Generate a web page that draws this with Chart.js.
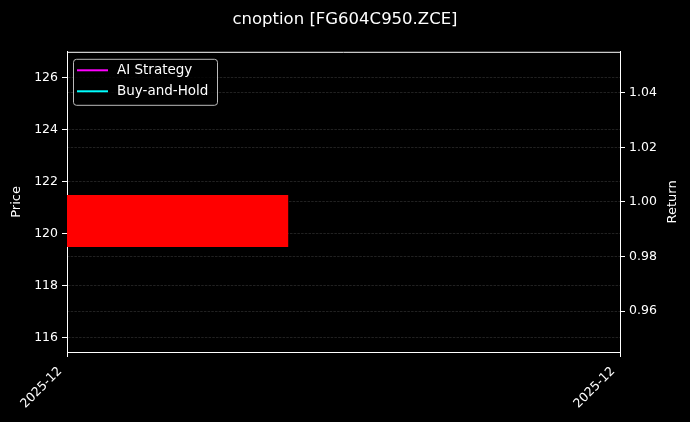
<!DOCTYPE html>
<html>
<head>
<meta charset="utf-8">
<script src="https://cdn.jsdelivr.net/npm/chart.js@4"></script>
<style>
  html, body { margin: 0; padding: 0; background: #000; }
  #wrap { width: 690px; height: 422px; }
</style>
</head>
<body>
<div id="wrap"><canvas id="chart" width="690" height="422"></canvas></div>
<script>
// data
const candleX = [0];
const candleOpenClose = [[119.5, 121.5]];
const returnX = [0];
const aiStrategy = [1.0];
const buyAndHold = [1.0];
const xTickLabels = ["2025-12", "2025-12"];
const xTickValues = [0, 1];

const FONT = "'DejaVu Sans', sans-serif";
const GRID = "rgba(255,255,255,0.22)";

const blackBg = {
  id: "blackBg",
  beforeDraw(chart) {
    const c = chart.ctx;
    c.save();
    c.fillStyle = "#000";
    c.fillRect(0, 0, chart.width, chart.height);
    c.restore();
  },
};

// top spine, right axis title (reads bottom-to-top like matplotlib), legend inside the plot
const extras = {
  id: "extras",
  afterDraw(chart) {
    const c = chart.ctx;
    const a = chart.chartArea;
    c.save();
    c.strokeStyle = "#fff";
    c.lineWidth = 1;
    c.beginPath();
    c.moveTo(a.left, a.top + 0.5);
    c.lineTo(a.right, a.top + 0.5);
    c.stroke();

    // Return label
    const y1 = chart.scales.y1;
    c.fillStyle = "#fff";
    c.font = "13px " + FONT;
    c.textAlign = "center";
    c.textBaseline = "middle";
    c.translate(673, (a.top + a.bottom) / 2);
    c.rotate(-Math.PI / 2);
    c.fillText(y1.options.title.text, 0, 0);
    c.restore();

    // legend
    const items = chart.data.datasets.filter((d) => d.type === "line");
    const x0 = a.left + 6, y0 = a.top + 7, w = 144, h = 46;
    c.save();
    c.fillStyle = "rgba(0,0,0,0.8)";
    c.strokeStyle = "#bbb";
    c.lineWidth = 1;
    c.beginPath();
    c.roundRect(x0 + 0.5, y0 + 0.5, w, h, 3);
    c.fill();
    c.stroke();
    c.font = "13.5px " + FONT;
    c.textBaseline = "middle";
    c.textAlign = "left";
    items.forEach((d, i) => {
      const yy = y0 + 11.5 + i * 21;
      c.strokeStyle = d.borderColor;
      c.lineWidth = 2;
      c.beginPath();
      c.moveTo(x0 + 4, yy);
      c.lineTo(x0 + 35, yy);
      c.stroke();
      c.fillStyle = "#fff";
      c.fillText(d.label, x0 + 44, yy);
    });
    c.restore();
  },
};

const ctx = document.getElementById("chart").getContext("2d");
const myChart = new Chart(ctx, {
  data: {
    datasets: [
      {
        type: "bar",
        label: "Price",
        data: candleX.map((x, i) => ({ x: x, y: candleOpenClose[i] })),
        backgroundColor: "#ff0000",
        borderWidth: 0,
        categoryPercentage: 1,
        barPercentage: 0.8,
        yAxisID: "y",
      },
      {
        type: "line",
        label: "AI Strategy",
        data: returnX.map((x, i) => ({ x: x, y: aiStrategy[i] })),
        borderColor: "#ff00ff",
        borderWidth: 2,
        pointRadius: 0,
        yAxisID: "y1",
      },
      {
        type: "line",
        label: "Buy-and-Hold",
        data: returnX.map((x, i) => ({ x: x, y: buyAndHold[i] })),
        borderColor: "#00ffff",
        borderWidth: 2,
        pointRadius: 0,
        yAxisID: "y1",
      },
    ],
  },
  options: {
    responsive: false,
    animation: false,
    layout: { padding: 0 },
    plugins: {
      legend: { display: false },
      tooltip: { enabled: false },
      title: {
        display: true,
        text: "cnoption [FG604C950.ZCE]",
        color: "#fff",
        font: { family: FONT, size: 16.5, weight: "normal", lineHeight: 1.2 },
        padding: { top: 10, bottom: 22 },
      },
    },
    scales: {
      x: {
        type: "linear",
        min: 0,
        max: 1,
        offset: false,
        afterBuildTicks: (s) => {
          s.ticks = xTickValues.map((v) => ({ value: v }));
        },
        afterFit: (s) => {
          s.height = 70;
        },
        ticks: {
          color: "#fff",
          font: { family: FONT, size: 12.5 },
          maxRotation: 45,
          minRotation: 45,
          padding: 7,
          labelOffset: -7,
          callback: (v, i) => xTickLabels[i],
        },
        grid: {
          offset: false,
          drawOnChartArea: false,
          tickColor: "#fff",
          tickLength: 5,
          tickWidth: 1,
        },
        border: { color: "#fff", width: 1 },
      },
      y: {
        position: "left",
        min: 115.46,
        max: 127.0,
        afterBuildTicks: (s) => {
          s.ticks = [116, 118, 120, 122, 124, 126].map((v) => ({ value: v }));
        },
        afterFit: (s) => {
          s.width = 67;
        },
        ticks: {
          color: "#fff",
          font: { family: FONT, size: 12.5 },
          padding: 4,
        },
        grid: {
          color: GRID,
          lineWidth: 0.6,
          tickColor: "#fff",
          tickLength: 5,
          tickWidth: 1,
        },
        border: { color: "#fff", width: 1, dash: [2.5, 1.2] },
        title: {
          display: true,
          text: "Price",
          color: "#fff",
          font: { family: FONT, size: 13 },
          padding: { top: 9, bottom: 0 },
        },
      },
      y1: {
        position: "right",
        min: 0.945,
        max: 1.055,
        afterBuildTicks: (s) => {
          s.ticks = [0.96, 0.98, 1.0, 1.02, 1.04].map((v) => ({ value: v }));
        },
        afterFit: (s) => {
          s.width = 70;
        },
        ticks: {
          color: "#fff",
          font: { family: FONT, size: 12.5 },
          padding: 4,
          callback: (v) => v.toFixed(2),
        },
        grid: {
          color: GRID,
          lineWidth: 0.6,
          tickColor: "#fff",
          tickLength: 5,
          tickWidth: 1,
        },
        border: { color: "#fff", width: 1, dash: [2.5, 1.2] },
        title: { display: false, text: "Return" },
      },
    },
  },
  plugins: [blackBg, extras],
});
</script>
</body>
</html>
